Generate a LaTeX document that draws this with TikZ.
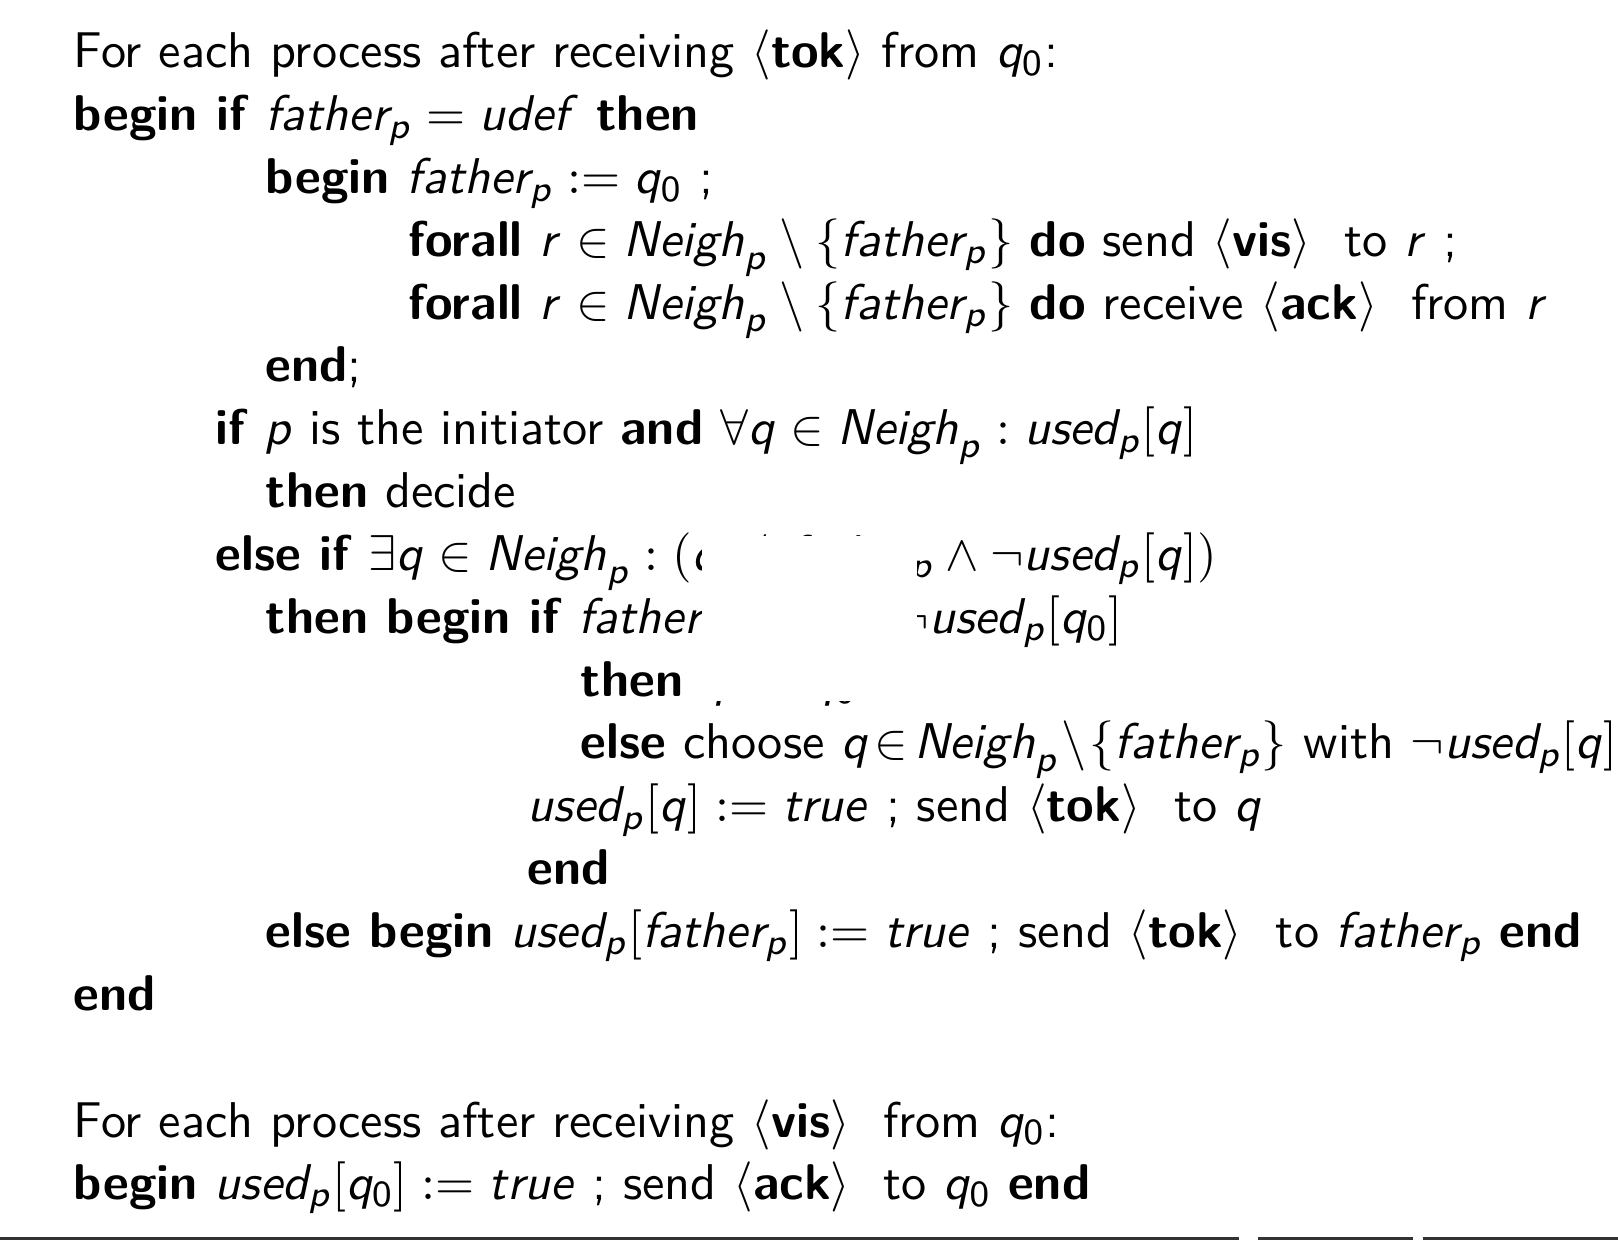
\documentclass[tikz,border=0pt]{standalone}
\usepackage{tikz}
\DeclareMathAlphabet{\mathsfit}{OT1}{cmss}{m}{sl}
\newcommand{\kw}[1]{\textbf{#1}}
\newcommand{\vname}[1]{\mathsfit{#1}}
\newcommand{\msg}[1]{$\langle$\textbf{#1}$\rangle$}
\newcommand{\fatherp}{\mbox{\slshape father}_{\mathsfit{p}}}
\newcommand{\neighp}{\mbox{\slshape Neigh}_{\mathsfit{p}}}
\newcommand{\usedp}{\mbox{\slshape used}_{\mathsfit{p}}}
\newcommand{\qnull}{\mathsfit{q}_{\mathsf{0}}}

\begin{document}
\begin{tikzpicture}[x=0.07658mm,y=-0.07658mm,
    codeline/.style={anchor=base west,inner sep=0pt,font=\sffamily\fontsize{10.95}{13.6}\selectfont},
    footrule/.style={line width=0.7pt,draw=black!80}]
    \useasboundingbox (0,0) rectangle (1618,1240);
    \node[codeline] (head1) at (73,68) {For each process after receiving \msg{tok} from $\qnull$:};
    \node[codeline] (l2) at (73,130.8) {\kw{begin if} $\fatherp = \vname{udef}$ \kw{then}};
    \node[codeline] (l3) at (265,193.6) {\kw{begin} $\fatherp := \qnull$ ;};
    \node[codeline] (l4) at (408,256.4) {\kw{forall} $\vname{r} \in \neighp \setminus \{\fatherp\}$ \kw{do} send \msg{vis}\ \ to $\vname{r}$ ;};
    \node[codeline] (l5) at (408,319.2) {\kw{forall} $\vname{r} \in \neighp \setminus \{\fatherp\}$ \kw{do} receive \msg{ack}\ \ from $\vname{r}$};
    \node[codeline] (l6) at (265,382) {\kw{end};};
    \node[codeline] (l7) at (215,444.8) {\kw{if} $\vname{p}$ is the initiator \kw{and} $\forall \vname{q} \in \neighp : \usedp[\vname{q}]$};
    \node[codeline] (l8) at (265,507.6) {\kw{then} decide};
    \node[codeline] (l9) at (215,570.4) {\kw{else if} $\exists \vname{q} \in \neighp : (\vname{q} \neq \fatherp \wedge \neg\usedp[\vname{q}])$};
    \node[codeline] (l10) at (265,633.2) {\kw{then begin if} $\fatherp \neq \qnull \wedge \neg\usedp[\qnull]$};
    \node[codeline] (l11) at (580,696) {\kw{then} $\vname{q} := \qnull$};
    \node[codeline] (l12) at (580,758.8) {\kw{else} choose $\vname{q}\!\in\!\neighp\!\setminus\!\{\fatherp\}$ with $\neg\usedp[\vname{q}]$};
    \node[codeline] (l13) at (527,821.6) {$\usedp[\vname{q}] := \vname{true}$ ; send \msg{tok}\ \ to $\vname{q}$};
    \node[codeline] (l14) at (527,884.4) {\kw{end}};
    \node[codeline] (l15) at (265,947.2) {\kw{else begin} $\usedp[\fatherp] := \vname{true}$ ; send \msg{tok}\ \ to $\fatherp$ \kw{end}};
    \node[codeline] (l16) at (73,1010) {\kw{end}};
    \node[codeline] (head2) at (73,1137) {For each process after receiving \msg{vis}\ \ from $\qnull$:};
    \node[codeline] (l18) at (73,1199) {\kw{begin} $\usedp[\qnull] := \vname{true}$ ; send \msg{ack}\ \ to $\qnull$ \kw{end}};
    % covered part
    \fill[white] (702,536) rectangle (917,701);
    \draw[footrule] (0,1238.5) -- (1239,1238.5);
    \draw[footrule] (1258,1238.5) -- (1413,1238.5);
    \draw[footrule] (1423,1238.5) -- (1618,1238.5);
\end{tikzpicture}
\end{document}
